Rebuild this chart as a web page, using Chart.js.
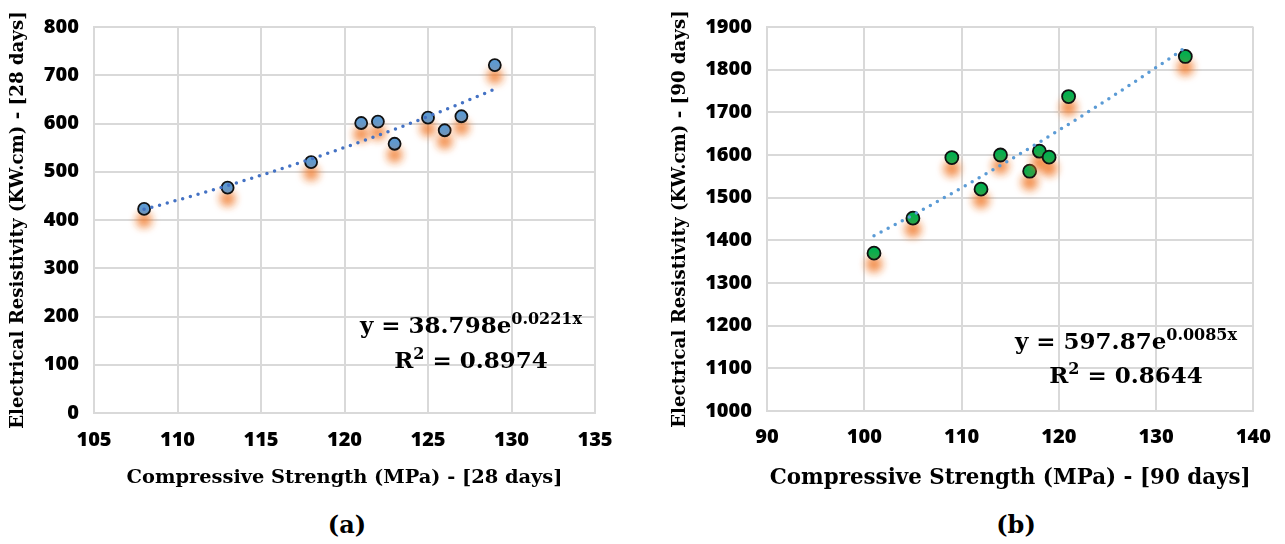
<!DOCTYPE html>
<html>
<head>
<meta charset="utf-8">
<script src="https://cdn.jsdelivr.net/npm/chart.js@4.4.1/dist/chart.umd.min.js"></script>
<style>
  html, body { margin: 0; padding: 0; background: #fff; }
  #wrap { position: relative; width: 1285px; height: 544px; overflow: hidden; }
  canvas { position: absolute; top: 0; }
  #chartA { left: 0; }
  #chartB { left: 640px; }
  .cap { position: absolute; top: 509px; font: bold 24px "DejaVu Serif", serif; color: #000;
         line-height: 32px; transform: translateX(-50%); white-space: nowrap; }
</style>
</head>
<body>
<div id="wrap">
  <canvas id="chartA" width="640" height="500"></canvas>
  <canvas id="chartB" width="645" height="500"></canvas>
  <div class="cap" style="left:347px">(a)</div>
  <div class="cap" style="left:1016px">(b)</div>
</div>
<script>
// ---- 28-day results ----
const strength28 = [108, 113, 118, 121, 122, 123, 125, 126, 127, 129];
const resistivity28 = [423, 467, 520, 601, 604, 558, 612, 586, 615, 721];
const xTicks28 = [105, 110, 115, 120, 125, 130, 135];
const yTicks28 = [0, 100, 200, 300, 400, 500, 600, 700, 800];
const fit28 = ['38.798', '0.0221', '0.8974'];   // a, b, R² of y = a·e^(b·x)

// ---- 90-day results ----
const strength90 = [101, 105, 109, 112, 114, 117, 118, 119, 121, 133];
const resistivity90 = [1370, 1452, 1594, 1520, 1600, 1562, 1609, 1595, 1737, 1831];
const xTicks90 = [90, 100, 110, 120, 130, 140];
const yTicks90 = [1000, 1100, 1200, 1300, 1400, 1500, 1600, 1700, 1800, 1900];
const fit90 = ['597.87', '0.0085', '0.8644'];

const TICK_FAMILY = '"Open Sans", Lato, sans-serif';
const TICK_FONT = { family: TICK_FAMILY, weight: '800', size: 20 };
const SERIF = '"DejaVu Serif", serif';
const GRID = '#d9d9d9';

// orange glow beneath the markers
const markerShadow = {
  id: 'markerShadow',
  beforeDatasetDraw(chart, args) {
    if (!chart.data.datasets[args.index].glow) return;
    const ctx = chart.ctx;
    ctx.save();
    ctx.shadowColor = 'rgba(240,120,40,0.95)';
    ctx.shadowBlur = 8;
    ctx.shadowOffsetX = 0;
    ctx.shadowOffsetY = 11;
  },
  afterDatasetDraw(chart, args) {
    if (!chart.data.datasets[args.index].glow) return;
    chart.ctx.restore();
  }
};

// trendline equation with superscripts
const equationLabel = {
  id: 'equationLabel',
  afterDraw(chart, args, o) {
    const ctx = chart.ctx;
    const main = `bold ${o.size}px ${SERIF}`;
    const sup = `bold ${o.supSize}px ${SERIF}`;
    const lines = [
      [[`y = ${o.fit[0]}e`, false], [`${o.fit[1]}x`, true]],
      [['R', false], ['2', true], [` = ${o.fit[2]}`, false]]
    ];
    ctx.save();
    ctx.fillStyle = '#000';
    ctx.textAlign = 'left';
    ctx.textBaseline = 'alphabetic';
    lines.forEach((parts, i) => {
      let w = 0;
      parts.forEach(([t, s]) => { ctx.font = s ? sup : main; w += ctx.measureText(t).width; });
      let x = o.cx - w / 2;
      const y = o.baselines[i];
      parts.forEach(([t, s]) => {
        ctx.font = s ? sup : main;
        ctx.fillText(t, x, s ? y - o.rise : y);
        x += ctx.measureText(t).width;
      });
    });
    ctx.restore();
  }
};

function trendPoints(xs, fit) {
  const a = parseFloat(fit[0]), b = parseFloat(fit[1]);
  const pts = [];
  const x0 = Math.min(...xs), x1 = Math.max(...xs);
  for (let x = x0; x <= x1 + 1e-9; x += 0.25) pts.push({ x, y: a * Math.exp(b * x) });
  return pts;
}

function build(id, p) {
  const pts = p.xs.map((x, i) => ({ x, y: p.ys[i] }));
  return new Chart(document.getElementById(id), {
    type: 'scatter',
    data: {
      datasets: [
        {
          data: trendPoints(p.xs, p.fit),
          showLine: true,
          borderColor: p.trendColor,
          borderWidth: 3.5,
          borderDash: [0, 8],
          borderCapStyle: 'round',
          pointRadius: 0,
          tension: 0,
          fill: false
        },
        {
          data: pts,
          glow: true,
          pointRadius: p.radius,
          pointBorderWidth: 1.8,
          pointBorderColor: '#111',
          pointBackgroundColor: p.fill
        }
      ]
    },
    options: {
      responsive: false,
      animation: false,
      layout: { padding: { left: 0, top: 19, right: p.padRight, bottom: 0 } },
      plugins: {
        legend: { display: false },
        tooltip: { enabled: false },
        equationLabel: p.eq
      },
      scales: {
        x: {
          type: 'linear',
          min: p.xTicks[0],
          max: p.xTicks[p.xTicks.length - 1],
          ticks: { stepSize: p.xTicks[1] - p.xTicks[0], font: TICK_FONT, color: '#000',
                   padding: p.xTickPad, maxRotation: 0, autoSkip: false,
                   callback: v => String(v) },
          grid: { color: GRID, lineWidth: 2, drawTicks: false },
          border: { display: true, color: GRID, width: 2 },
          title: { display: true, text: p.xTitle, color: '#000',
                   font: { family: SERIF, weight: 'bold', size: p.xTitleSize },
                   padding: { top: 0, bottom: p.xTitlePad } },
          afterFit(s) { s.height = p.xAxisHeight; }
        },
        y: {
          min: p.yTicks[0],
          max: p.yTicks[p.yTicks.length - 1],
          ticks: { stepSize: p.yTicks[1] - p.yTicks[0], font: TICK_FONT, color: '#000', padding: 15,
                   callback: v => String(v) },
          grid: { color: GRID, lineWidth: 2, drawTicks: false },
          border: { display: true, color: GRID, width: 2 },
          title: { display: true, text: p.yTitle, color: '#000',
                   font: { family: SERIF, weight: 'bold', size: 18.2 },
                   padding: { top: p.yTitlePad, bottom: 0 } },
          afterFit(s) { s.width = p.yAxisWidth; }
        }
      }
    },
    plugins: [markerShadow, equationLabel]
  });
}

function drawAll() {
  build('chartA', {
    xs: strength28, ys: resistivity28, fit: fit28,
    xTicks: xTicks28, yTicks: yTicks28,
    trendColor: '#4472C4', fill: '#5B9BD5', radius: 6,
    padRight: 45, yAxisWidth: 94, xAxisHeight: 87, xTickPad: 15,
    xTitle: 'Compressive Strength (MPa) - [28 days]', xTitleSize: 19.4, xTitlePad: 10.4,
    yTitle: 'Electrical Resistivity (KW.cm) - [28 days]', yTitlePad: 7,
    eq: { fit: fit28, cx: 471, baselines: [333, 368], size: 23, supSize: 16, rise: 9 }
  });

  build('chartB', {
    xs: strength90, ys: resistivity90, fit: fit90,
    xTicks: xTicks90, yTicks: yTicks90,
    trendColor: '#5B9BD5', fill: '#00B050', radius: 6.5,
    padRight: 30, yAxisWidth: 127, xAxisHeight: 89, xTickPad: 14,
    xTitle: 'Compressive Strength (MPa) - [90 days]', xTitleSize: 21.4, xTitlePad: 9,
    yTitle: 'Electrical Resistivity (KW.cm) - [90 days]', yTitlePad: 29,
    eq: { fit: fit90, cx: 1126 - 640, baselines: [349, 383], size: 23, supSize: 16, rise: 9 }
  });
}

Promise.all([
  document.fonts.load('800 20px "Open Sans"'),
  document.fonts.load('bold 20px "Open Sans"'),
  document.fonts.load('bold 20px "DejaVu Serif"')
]).catch(() => {}).then(drawAll);
</script>
</body>
</html>
